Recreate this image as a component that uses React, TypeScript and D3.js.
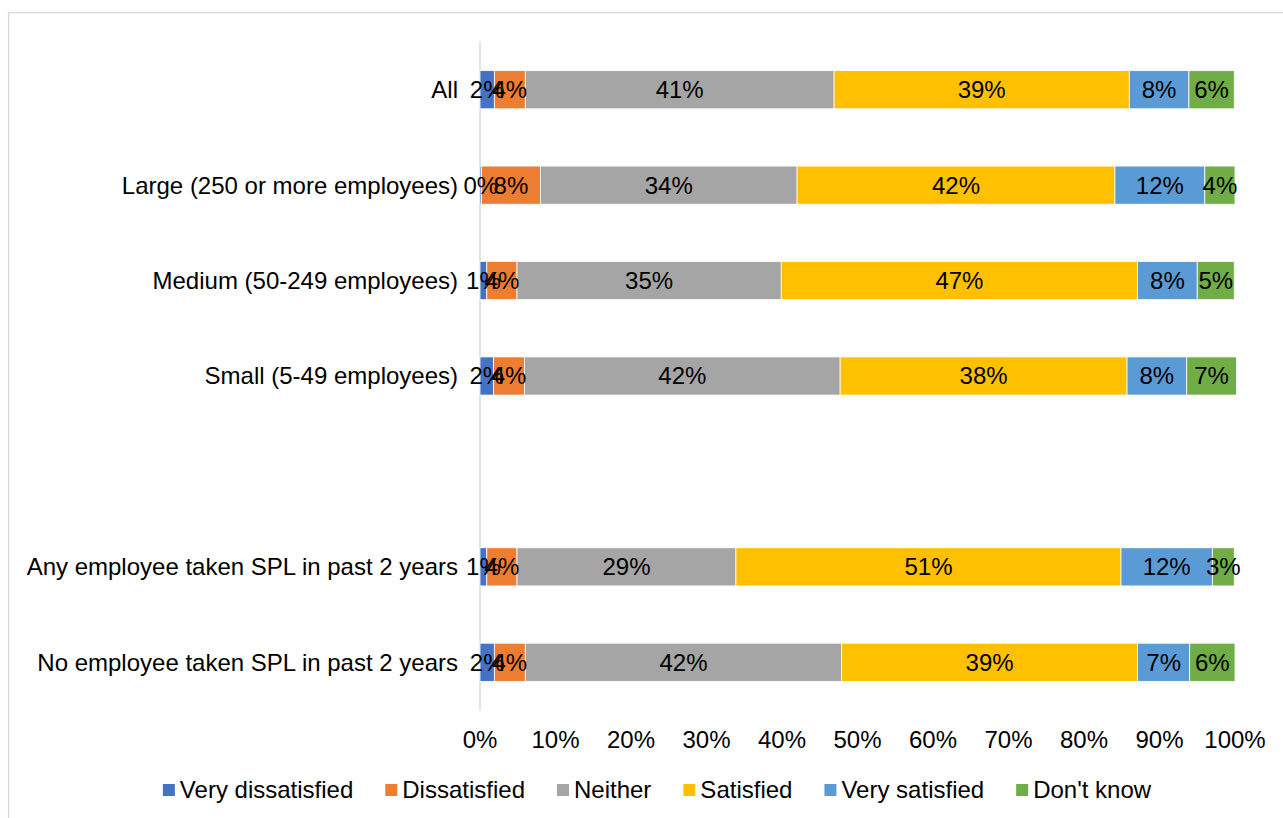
import React, { useEffect, useRef } from "react";
import * as d3 from "d3";

const width = 1283;
const height = 818;

// "" is the empty gap row between the size groups and the SPL groups
const categories = [
  "All",
  "Large (250 or more employees)",
  "Medium (50-249 employees)",
  "Small (5-49 employees)",
  "",
  "Any employee taken SPL in past 2 years",
  "No employee taken SPL in past 2 years",
];

const seriesNames = ["Very dissatisfied", "Dissatisfied", "Neither", "Satisfied", "Very satisfied", "Don't know"];
const colors = ["#4472C4", "#ED7D31", "#A5A5A5", "#FFC000", "#5B9BD5", "#70AD47"];

// percentages per row, in series order
const allRow = [1.9, 4.1, 40.9, 39.1, 7.9, 6.0];
const largeRow = [0.2, 7.8, 34.0, 42.1, 11.9, 4.0];
const mediumRow = [0.9, 4.0, 35.0, 47.2, 7.9, 4.9];
const smallRow = [1.8, 4.1, 41.8, 38.0, 7.9, 6.6];
const anySplRow = [0.9, 4.0, 29.0, 51.0, 12.1, 2.9];
const noSplRow = [1.9, 4.1, 41.9, 39.2, 6.9, 6.0];

const rows = [
  { cat: categories[0], values: allRow },
  { cat: categories[1], values: largeRow },
  { cat: categories[2], values: mediumRow },
  { cat: categories[3], values: smallRow },
  { cat: categories[5], values: anySplRow },
  { cat: categories[6], values: noSplRow },
];

const tickValues = [0, 10, 20, 30, 40, 50, 60, 70, 80, 90, 100];

const font = "'Liberation Sans', Arial, sans-serif";
const fontSize = 24;

export default function App() {
  const ref = useRef<SVGSVGElement>(null);

  useEffect(() => {
    const svg = d3.select(ref.current);
    svg.selectAll("*").remove();

    const x = d3.scaleLinear().domain([0, 100]).range([480, 1235]);
    const y = d3
      .scaleBand()
      .domain(categories.map((c, i) => c || "gap" + i))
      .range([42, 710])
      .paddingInner(0.6)
      .paddingOuter(0.3);

    // chart frame
    svg
      .append("path")
      .attr("d", `M8.6,${height} V12.6 H${width}`)
      .attr("fill", "none")
      .attr("stroke", "#d9d9d9")
      .attr("stroke-width", 1.4);

    // vertical axis line
    svg
      .append("line")
      .attr("x1", x(0))
      .attr("x2", x(0))
      .attr("y1", 42)
      .attr("y2", 710)
      .attr("stroke", "#d9d9d9")
      .attr("stroke-width", 1.5);

    const stack = d3
      .stack<{ cat: string; values: number[] }, number>()
      .keys(d3.range(seriesNames.length))
      .value((d, k) => d.values[k]);
    const layers = stack(rows);

    const g = svg.append("g");
    layers.forEach((layer, k) => {
      g.selectAll(null)
        .data(layer)
        .enter()
        .append("rect")
        .attr("x", (d) => x(d[0]))
        .attr("width", (d) => x(d[1]) - x(d[0]))
        .attr("y", (d) => y(d.data.cat)!)
        .attr("height", y.bandwidth())
        .attr("fill", colors[k])
        .attr("stroke", "#ffffff")
        .attr("stroke-width", 0.8);
    });

    // data labels
    layers.forEach((layer) => {
      g.selectAll(null)
        .data(layer)
        .enter()
        .append("text")
        .attr("x", (d) => (x(d[0]) + x(d[1])) / 2)
        .attr("y", (d) => y(d.data.cat)! + y.bandwidth() / 2)
        .attr("dy", "0.35em")
        .attr("text-anchor", "middle")
        .attr("font-family", font)
        .attr("font-size", fontSize)
        .attr("fill", "#000")
        .text((d) => `${Math.round(d[1] - d[0])}%`);
    });

    // category labels
    svg
      .selectAll(null)
      .data(rows)
      .enter()
      .append("text")
      .attr("x", 458)
      .attr("y", (d) => y(d.cat)! + y.bandwidth() / 2)
      .attr("dy", "0.35em")
      .attr("text-anchor", "end")
      .attr("font-family", font)
      .attr("font-size", fontSize)
      .attr("fill", "#000")
      .text((d) => d.cat);

    // x tick labels
    svg
      .selectAll(null)
      .data(tickValues)
      .enter()
      .append("text")
      .attr("x", (d) => x(d))
      .attr("y", 748)
      .attr("text-anchor", "middle")
      .attr("font-family", font)
      .attr("font-size", fontSize)
      .attr("fill", "#000")
      .text((d) => `${d}%`);

    // legend
    const legend = svg.append("g");
    const items = legend
      .selectAll(null)
      .data(seriesNames)
      .enter()
      .append("g");
    items
      .append("rect")
      .attr("width", 12)
      .attr("height", 12)
      .attr("y", 784)
      .attr("fill", (d, i) => colors[i]);
    const labels = items
      .append("text")
      .attr("x", 17)
      .attr("y", 798)
      .attr("font-family", font)
      .attr("font-size", fontSize)
      .attr("fill", "#000")
      .text((d) => d);
    const widths: number[] = [];
    labels.each(function () {
      widths.push((this as SVGTextElement).getComputedTextLength());
    });
    const itemW = widths.map((w) => 17 + w + 32);
    const total = d3.sum(itemW) - 32;
    let cx = 657 - total / 2;
    items.each(function (d, i) {
      d3.select(this).attr("transform", `translate(${cx},0)`);
      cx += itemW[i];
    });
  }, []);

  return (
    <svg
      ref={ref}
      width={width}
      height={height}
      style={{ position: "absolute", left: 0, top: 0, background: "#fff" }}
    />
  );
}
